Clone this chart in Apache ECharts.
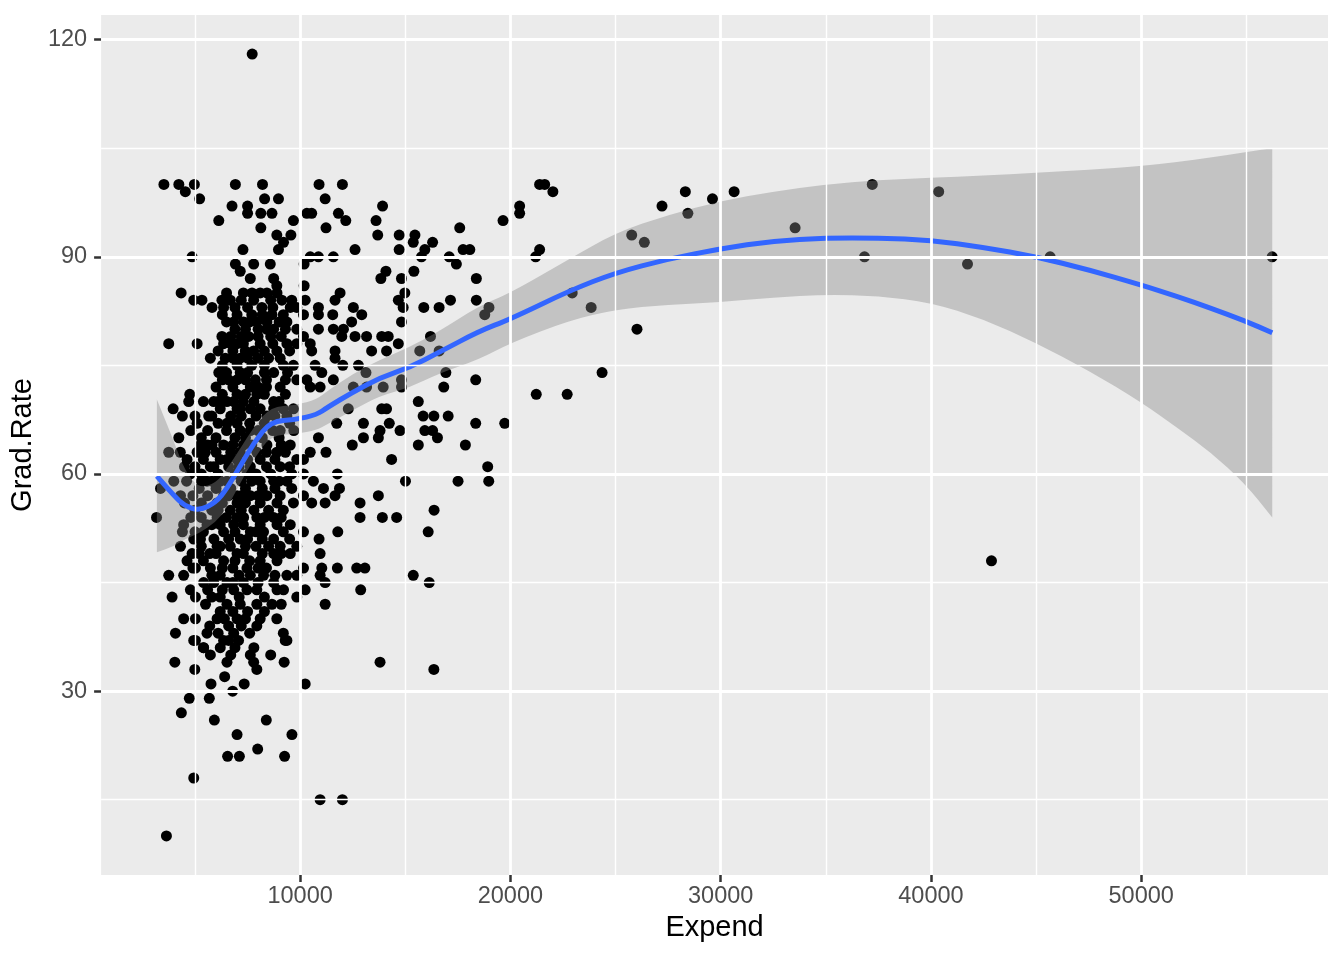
<!DOCTYPE html>
<html lang="en">
<head>
<meta charset="UTF-8">
<title>Grad.Rate vs Expend</title>
<script src="https://cdn.jsdelivr.net/npm/echarts@6.0.0/dist/echarts.min.js"></script>
<style>
  html, body { margin: 0; padding: 0; background: #fff; }
  #chart { width: 1344px; height: 960px; }
</style>
</head>
<body>
<div id="chart"></div>
<script>
// tick values
const xTicks = [10000, 20000, 30000, 40000, 50000];
const xMinor = [5000, 15000, 25000, 35000, 45000, 55000];
const yTicks = [30, 60, 90, 120];
const yMinor = [15, 45, 75, 105];

// points: [Expend, Grad.Rate]
const points = [
  // upper left cluster
  [3520,100],[4230,100],[4540,99],[4970,100],[5220,98],[6920,100],[8210,100],[6760,97],[7500,97],[7500,96],
  [8310,98],[8970,98],[8130,96],[8660,96],[6130,95],[8130,94],[9680,95],[8890,93],[9560,93],[9210,92],
  [8970,91],[7280,91],[4860,90],[6920,89],[7790,89],[8580,89],[7150,88],[7630,87],[8740,87],[8890,86],
  [4340,85],[4940,84],[5330,84],[5810,83],[6280,84],[6680,84],[6360,83],[7710,85],[8100,85],[8420,85],
  [7790,84],[8180,83],[7000,82],[6840,81],[7310,81],[8660,82],[7940,81],[8420,81],[8740,80],[9130,84],
  [9530,83],[9840,83],[9370,81],[9840,80],[3750,78],[5100,78],[6280,79],[6360,78],[7000,78],[7550,79],
  [7790,77],[7390,77],[6440,76],[5730,76],[7150,76],[8890,77],[9370,78],[9840,78],[9050,76],[9680,75],
  [6130,74],[6600,73],[7150,74],[7870,73],[7630,72],[8740,74],[9050,72],[9840,73],[4750,71],[3960,69],
  [5890,70],[6520,70],[7000,71],[7150,69],[7940,71],[8740,70],[9680,69],
  // upper middle
  [10900,100],[12010,100],[11190,98],[13920,97],[10320,96],[10550,96],[11820,96],[12170,95],[13610,95],[11230,94],
  [13690,93],[14710,93],[15460,93],[15380,92],[16300,92],[17590,94],[12610,91],[14710,91],[15930,91],[17750,91],
  [18070,91],[10480,90],[10870,90],[11580,90],[15770,90],[17090,90],[17430,89],[10190,89],[14080,88],[13840,87],
  [14820,87],[15410,88],[18380,87],[10190,86],[11900,85],[11660,84],[14980,85],[14670,84],[14900,83],[15880,83],
  [16610,83],[17150,84],[18380,84],[10240,84],[10160,82],[10870,83],[10870,82],[11550,82],[12530,83],[12930,82],
  [14820,81],[12450,81],[12060,80],[10870,80],[11580,80],[11980,79],[12610,79],[13160,79],[13880,79],[14190,79],
  [14670,78],[13400,77],[14110,77],[10160,79],[10480,78],[10550,77],[11660,77],[11660,76],[12030,75],[12770,75],
  [10710,75],[11030,74],[10320,73],[11580,73],[10480,72],[10950,72],[15690,77],[16200,79],[16610,77],[16930,74],
  [16830,72],[14820,73],[14820,72],[13950,72],[13160,72],[12530,72],[13130,74],[15620,70],[18350,73],
  // lower left cluster
  [5100,67],[4230,65],[3750,63],[4620,62],[5650,68],[5810,64],[5490,63],[5730,61],[4780,60],[3990,59],
  [3360,58],[4310,57],[3170,54],[4460,53],[4310,50],[4940,51],[4860,49],[4620,48],[3750,46],[4460,46],
  [5020,47],[5730,47],[6360,48],[6050,50],[6680,50],[7000,49],[7470,47],[6520,45],[5890,45],[5410,45],
  [4780,44],[3910,43],[5020,43],[6200,43],[6840,44],[7470,44],[7940,44],[8260,46],[8740,45],[7630,46],
  [8100,48],[8740,49],[9050,50],[9530,49],[9840,50],[9370,46],[9840,43],[9210,44],[8660,42],[7940,42],
  [7150,42],[6520,42],[6200,41],[6050,40],[7000,40],[4460,40],[5020,40],[4070,38],[4940,37],[5570,38],
  [6360,37],[6840,38],[7940,39],[8890,40],[9370,37],[9840,46],
  [7630,69],[8420,68],[6520,67],[7150,66],[7630,66],[8420,64],[8890,63],[9530,64],[9840,62],[9050,61],
  [8740,59],[9370,59],[8100,59],[7470,60],[7000,57],[7630,57],[8420,57],[9050,57],[9680,56],[6680,55],
  [7310,54],[7940,54],[8740,54],[9530,53],[6840,53],[7630,52],[8260,52],[8740,51],[7150,51],[6360,52],
  [6050,54],[5570,53],[5260,51],[6360,57],[6050,56],[5570,59],[6520,62],[6360,64],[5260,64],[7150,63],
  [7940,63],[7630,61],[6520,59],[9050,66],[9370,68],[8740,69],[6840,70],
  // dense core of the cluster
  [6500,85],[7300,85],[8900,85],[7200,84],[8600,84],[9600,84],[6900,83],[7500,83],[8700,83],
  [6300,82],[7700,82],[8200,82],[9200,82],[6500,81],[7600,81],[9000,81],
  [6900,80],[7400,80],[8000,80],[8400,80],[9300,80],[6700,79],[7200,79],[8000,79],[8600,79],[9100,79],
  [6700,78],[7300,78],[8100,78],[8700,78],[6100,77],[6800,77],[8300,77],[9500,77],
  [6800,76],[7500,76],[8000,76],[8500,76],[6300,75],[7000,75],[7700,75],[8300,75],[9200,75],
  [6500,74],[7500,74],[8300,74],[9400,74],[6300,73],[7000,73],[7400,73],[8400,73],[9300,73],
  [6000,72],[6800,72],[8000,72],[8400,72],[6300,71],[7400,71],[8300,71],[9300,71],
  [6100,70],[7300,70],[7800,70],[9000,70],[6200,69],[7000,69],[8100,69],[9200,69],
  [5800,68],[6700,68],[7200,68],[7900,68],[8800,68],[6100,67],[7000,67],[7600,67],[8300,67],[9500,67],
  [5600,66],[6500,66],[8000,66],[8700,66],[9700,66],[6000,65],[6900,65],[7400,65],[8200,65],[9000,65],
  [5600,64],[6800,64],[7300,64],[7700,64],[9100,64],[6000,63],[6700,63],[8400,63],[9300,63],
  [5400,62],[6200,62],[7000,62],[7500,62],[8100,62],[8800,62],[5900,61],[6600,61],[7100,61],[8400,61],[9500,61],
  [5300,60],[6100,60],[6900,60],[7900,60],[8600,60],[9600,60],[5800,59],[6200,59],[7200,59],[7700,59],[9000,59],
  [5200,58],[6000,58],[6700,58],[7400,58],[8200,58],[8800,58],[9600,58],[5600,57],[6600,57],[7200,57],[8000,57],
  [5300,56],[6300,56],[7000,56],[7400,56],[8100,56],[8900,56],[5800,55],[6100,55],[7200,55],[7800,55],[8500,55],[9200,55],
  [5300,54],[6500,54],[7000,54],[8300,54],[9100,54],[5800,53],[6200,53],[7300,53],[8100,53],[8900,53],
  [5000,52],[5400,52],[6900,52],[7900,52],[9200,52],[5900,51],[6600,51],[7500,51],[8200,51],[9500,51],
  [5300,50],[6200,50],[7400,50],[7900,50],[8500,50],[5700,49],[6000,49],[7300,49],[8200,49],[9100,49],
  [5400,48],[6900,48],[7600,48],[8900,48],[6300,47],[6800,47],[8000,47],[8400,47],
  [5800,46],[6200,46],[7100,46],[8800,46],[6800,45],[7300,45],[8000,45],[5600,44],[6300,44],[8900,44],
  [5800,43],[7100,43],[8300,43],[5500,42],[9100,42],[6800,41],[7500,41],[8300,41],
  [6400,40],[7400,40],[8100,40],[5700,39],[6600,39],[7200,39],[6100,38],[7600,38],[9200,38],
  [5400,36],[6900,36],[7800,36],[6700,35],[8600,35],
  [4700,70],[5400,70],[4400,68],[5000,68],[4800,66],[5300,65],[4300,63],[5100,63],[4500,61],[5000,61],
  [4600,59],[5300,59],[4900,57],[4500,56],[5000,55],[4800,54],[4400,52],[5200,49],[4900,47],
  // lower middle
  [15850,68],[16360,68],[17040,68],[18350,67],[15930,66],[16300,66],[16530,65],[15620,64],[17860,64],[13010,67],
  [14240,67],[14750,66],[13800,66],[13720,65],[13010,65],[12480,64],[14350,62],[14110,69],[13880,69],[12290,69],
  [11740,67],[10870,65],[11230,63],[10480,63],[10160,62],[10160,60],[11770,60],[10630,59],[11110,58],[11870,58],
  [11660,57],[10550,56],[11190,56],[10160,57],[15010,59],[17510,59],[13720,57],[12850,56],[12850,54],[13910,54],
  [14590,54],[16370,55],[10160,52],[11790,52],[10900,51],[16090,52],[10950,49],[10160,47],[11030,47],[11770,47],
  [12690,47],[13080,47],[10950,46],[11190,45],[15380,46],[16140,45],[10240,44],[12880,44],[11190,42],
  // bottom
  [5020,37],[5410,36],[5730,35],[6200,36],[6600,37],[7070,37],[6520,34],[9290,37],[9240,34],[4040,34],
  [4990,33],[7630,35],[7790,34],[7940,33],[6410,32],[5760,31],[7340,31],[6790,30],[10240,31],[4730,29],
  [5680,29],[4350,27],[5920,26],[8390,26],[7000,24],[9610,24],[6550,21],[7110,21],[7980,22],[9260,21],
  [4940,18],[10950,15],[12010,15],[3640,10],[13800,34],[16360,33],
  // right side
  [21390,100],[21630,100],[22020,99],[20440,97],[20440,96],[19650,95],[18980,83],[18780,82],[21390,91],[21200,90],
  [22940,85],[23840,83],[26020,80],[24360,74],[21230,71],[22700,71],[25770,93],[26370,92],[27210,97],[28320,99],
  [28440,96],[29610,98],[30640,99],[33540,94],[37210,100],[36840,90],[40370,99],[41740,89],[45670,90],[56230,90],
  [42880,48],[7720,118],[19730,67],[18920,61],[18970,59]
];

// loess fit and its confidence band
const fitX    = [3186, 4000, 4500, 5200, 6000, 6500, 7150, 7800, 8600, 9800, 10800, 11300, 12500, 13800, 15200, 16600,
                 18500, 20000, 22800, 25000, 27500, 30000, 32500, 35000, 37500, 40000, 42500, 45000, 47500, 50000, 51750,
                 53300, 54900, 56233];
const fitY    = [59.7, 57.0, 55.6, 54.9, 56.1, 57.9, 61.1, 64.3, 67.3, 67.5, 68.2, 69.2, 71.3, 73.3, 74.7, 76.8,
                 79.7, 81.4, 85.3, 87.8, 89.7, 91.1, 92.2, 92.6, 92.6, 92.3, 91.3, 90.0, 88.2, 86.1, 84.5,
                 82.9, 81.2, 79.5];
const fitHigh = [70.3, 64.5, 60.5, 58.0, 58.8, 60.6, 63.5, 66.5, 69.3, 69.5, 70.3, 71.5, 73.8, 75.8, 77.5, 79.7,
                 83.2, 85.0, 89.7, 93.3, 95.8, 97.7, 99.0, 100.0, 100.6, 100.9, 101.2, 101.6, 102.0, 102.5, 103.1,
                 103.7, 104.4, 105.0];
const fitLow  = [49.2, 50.0, 51.0, 51.8, 53.4, 55.2, 58.7, 62.1, 65.3, 65.5, 66.1, 66.9, 68.8, 70.8, 71.9, 73.9,
                 75.8, 78.1, 81.2, 82.7, 83.4, 83.7, 84.4, 84.8, 84.6, 83.7, 81.4, 78.1, 74.3, 69.9, 66.3,
                 63.0, 58.8, 54.0];

const chart = echarts.init(document.getElementById('chart'));

const fontFamily = 'Liberation Sans, Arial, Helvetica, sans-serif';

// smooth path through midpoints of a pixel polyline (quadratic segments)
function smoothPath(pts, start) {
    let d = (start ? 'M' : 'L') + pts[0][0] + ' ' + pts[0][1];
    d += ' L' + ((pts[0][0] + pts[1][0]) / 2) + ' ' + ((pts[0][1] + pts[1][1]) / 2);
    for (let i = 1; i < pts.length - 1; i++) {
        const mx = (pts[i][0] + pts[i + 1][0]) / 2;
        const my = (pts[i][1] + pts[i + 1][1]) / 2;
        d += ' Q' + pts[i][0] + ' ' + pts[i][1] + ' ' + mx + ' ' + my;
    }
    const last = pts[pts.length - 1];
    d += ' L' + last[0] + ' ' + last[1];
    return d;
}

const option = {
    animation: false,
    textStyle: { fontFamily: fontFamily },
    grid: {
        left: 101, right: 16, top: 15, bottom: 85,
        show: true, backgroundColor: '#EBEBEB', borderWidth: 0
    },
    xAxis: {
        type: 'value',
        min: 534,
        max: 58885,
        name: 'Expend',
        nameLocation: 'middle',
        nameGap: 38,
        nameTextStyle: { fontSize: 29, color: '#000', fontFamily: fontFamily },
        axisLine: { show: false },
        axisTick: { show: true, length: 7, customValues: xTicks, lineStyle: { color: '#333', width: 2.5 } },
        axisLabel: {
            customValues: xTicks, fontSize: 23.5, color: '#4D4D4D', margin: 10, fontFamily: fontFamily,
            formatter: function (v) { return String(v); }
        },
        splitLine: { show: false }
    },
    yAxis: {
        type: 'value',
        min: 4.6,
        max: 123.4,
        name: 'Grad.Rate',
        nameLocation: 'middle',
        nameRotate: 90,
        nameGap: 55,
        nameTextStyle: { fontSize: 29, color: '#000', fontFamily: fontFamily },
        axisLine: { show: false },
        axisTick: { show: true, length: 7, customValues: yTicks, lineStyle: { color: '#333', width: 2.5 } },
        axisLabel: {
            customValues: yTicks, fontSize: 23.5, color: '#4D4D4D', margin: 14, fontFamily: fontFamily,
            formatter: function (v) { return String(v); }
        },
        splitLine: { show: false }
    },
    series: [
        // grid lines, minor then major
        {
            type: 'scatter', data: [], silent: true, z: 1,
            markLine: {
                silent: true, symbol: ['none', 'none'], label: { show: false },
                lineStyle: { color: '#fff', type: 'solid', width: 1.4, opacity: 1 },
                data: xMinor.map(v => ({ xAxis: v })).concat(yMinor.map(v => ({ yAxis: v })))
            }
        },
        {
            type: 'scatter', data: [], silent: true, z: 1,
            markLine: {
                silent: true, symbol: ['none', 'none'], label: { show: false },
                lineStyle: { color: '#fff', type: 'solid', width: 2.8, opacity: 1 },
                data: xTicks.map(v => ({ xAxis: v })).concat(yTicks.map(v => ({ yAxis: v })))
            }
        },
        // points
        {
            type: 'scatter', data: points, symbolSize: 11, silent: true, z: 2,
            itemStyle: { color: '#000', opacity: 1 }
        },
        // confidence band drawn as one shape over the points
        {
            type: 'custom', silent: true, z: 3,
            data: [[fitX[0], fitY[0]]],
            renderItem: function (params, api) {
                const upper = fitX.map((x, i) => api.coord([x, fitHigh[i]]));
                const lower = fitX.map((x, i) => api.coord([x, fitLow[i]])).reverse();
                return {
                    type: 'path',
                    shape: { pathData: smoothPath(upper, true) + ' ' + smoothPath(lower, false) + ' Z' },
                    style: { fill: '#888888', opacity: 0.4 }
                };
            }
        },
        // smoother line
        {
            type: 'custom', silent: true, z: 4,
            data: [[fitX[0], fitY[0]]],
            renderItem: function (params, api) {
                const line = fitX.map((x, i) => api.coord([x, fitY[i]]));
                return {
                    type: 'path',
                    shape: { pathData: smoothPath(line, true) },
                    style: { fill: 'none', stroke: '#3366FF', lineWidth: 5 }
                };
            }
        }
    ]
};

chart.setOption(option);
</script>
</body>
</html>
